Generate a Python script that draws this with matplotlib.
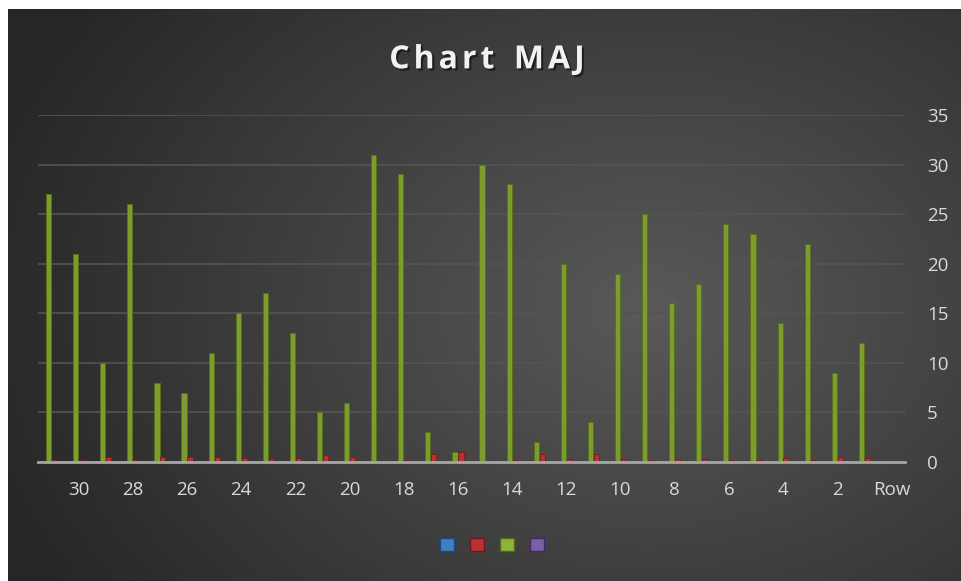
import numpy as np
import matplotlib
matplotlib.use("Agg")
import matplotlib.pyplot as plt
from matplotlib.patches import Patch
import matplotlib.patheffects as pe

# rows 31 .. 1, then the empty "Row" slot (reversed axis like the original)
rows = [str(r) for r in range(31, 0, -1)] + ["Row"]
green_vals = [27, 21, 10, 26, 8, 7, 11, 15, 17, 13, 5, 6, 31, 29, 3, 1,
              30, 28, 2, 20, 4, 19, 25, 16, 18, 24, 23, 14, 22, 9, 12, 0]
red_vals = [0.2, 0.2, 0.5, 0.2, 0.5, 0.5, 0.5, 0.4, 0.3, 0.4, 0.7, 0.5,
            0.1, 0.2, 0.8, 1.0, 0.1, 0.2, 0.8, 0.3, 0.8, 0.3, 0.2, 0.3,
            0.3, 0.2, 0.2, 0.4, 0.2, 0.5, 0.4, 0]
blue_vals = [0] * 32
purple_vals = [0] * 32
title = "Chart MAJ"

fig = plt.figure(figsize=(9.61, 5.81), dpi=100)
fig.patch.set_facecolor("white")

# dark radial background
bg = fig.add_axes([8 / 961, 0, 953 / 961, 572 / 581])
bg.set_axis_off()
h, w = 572, 953
yy, xx = np.mgrid[0:h, 0:w]
d = np.sqrt(((xx - 640) / 700.0) ** 2 + ((yy - 300) / 520.0) ** 2)
d = np.clip(d, 0, 1)
shade = 0.35 - 0.20 * d
img = np.dstack([shade, shade, shade])
bg.imshow(img, aspect="auto", extent=[0, 1, 0, 1], origin="upper")
bg.set_xlim(0, 1)
bg.set_ylim(0, 1)

ax = fig.add_axes([38 / 961, 119 / 581, 867 / 961, 347 / 581])
ax.patch.set_alpha(0)

x = np.arange(len(rows))
bw = 0.19
ax.bar(x - 0.33, purple_vals, bw, color="#7d5fa6", zorder=3)
ax.bar(x - 0.11, green_vals, bw, color="#7d9c2e", edgecolor="#56701a",
       linewidth=0.6, zorder=3)
ax.bar(x + 0.11, red_vals, bw, color="#b8302f", edgecolor="#7a1a1a",
       linewidth=0.6, zorder=3)
ax.bar(x + 0.33, blue_vals, bw, color="#3f7fc4", zorder=3)

ax.set_xlim(-0.5, len(rows) - 0.5)
ax.set_ylim(0, 35)
ax.set_yticks(range(0, 36, 5))
ax.yaxis.tick_right()
ax.grid(axis="y", color="#545454", linewidth=1.2, zorder=0)
ax.set_axisbelow(True)

ax.set_xticks(x[1::2])
ax.set_xticklabels(rows[1::2])

for s in ["top", "left", "right"]:
    ax.spines[s].set_visible(False)
ax.spines["bottom"].set_color("#a6a6a6")
ax.spines["bottom"].set_linewidth(2)
ax.spines["bottom"].set_zorder(4)

ax.tick_params(axis="x", length=0, pad=14, labelsize=13.5, labelcolor="#d9d9d9")
ax.tick_params(axis="y", length=0, pad=16, labelsize=13.5, labelcolor="#d9d9d9")
for lab in ax.get_xticklabels() + ax.get_yticklabels():
    lab.set_fontfamily("Open Sans")

# title with wide letter spacing, placed char by char
renderer = fig.canvas.get_renderer()
kw = dict(color="#f2f2f2", fontsize=23, fontweight="bold", family="Open Sans",
          va="center", ha="left",
          path_effects=[pe.withSimplePatchShadow(offset=(1.5, -1.5),
                                                 shadow_rgbFace="black", alpha=0.5)])
spacing = 4.0
widths = []
for ch in title:
    t = fig.text(0, 0, ch if ch != " " else "n", **kw)
    widths.append(t.get_window_extent(renderer).width * (0.55 if ch == " " else 1))
    t.remove()
total = sum(widths) + spacing * (len(title) - 1)
xpos = 487 - total / 2
for ch, wd in zip(title, widths):
    if ch != " ":
        fig.text(xpos / 961, 0.897, ch, **kw)
    xpos += wd + spacing

handles = [Patch(facecolor="#3f7fc4", edgecolor="#1f4a80"),
           Patch(facecolor="#b8302f", edgecolor="#6a1a1a"),
           Patch(facecolor="#8db43a", edgecolor="#4e6a1a"),
           Patch(facecolor="#7d5fa6", edgecolor="#3e2a66")]
leg = fig.legend(handles, ["", "", "", ""], ncol=4, loc="center",
                 bbox_to_anchor=(492 / 961, 36 / 581), frameon=False,
                 handlelength=0.85, handleheight=0.85, handletextpad=0,
                 columnspacing=0.95, fontsize=12)

fig.savefig("out.png", dpi=100)
